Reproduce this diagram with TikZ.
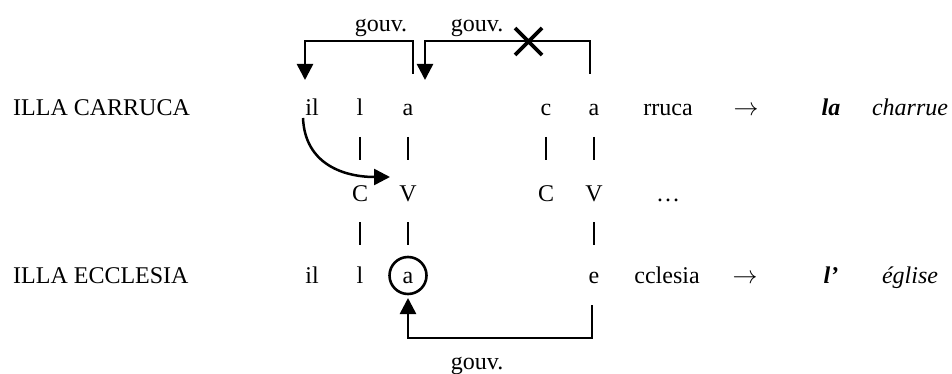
\documentclass[tikz,border=0pt]{standalone}
\usepackage{fontspec}
\setmainfont{Liberation Serif}
\usetikzlibrary{arrows.meta}
\begin{document}
\begin{tikzpicture}[x=1pt,y=-1pt,
  txt/.style={inner sep=0pt, anchor=base, font=\fontsize{24}{29}\selectfont},
  link/.style={line width=2.5pt, -{Triangle[width=16pt,length=16pt]}},
  bar/.style={line width=1.3pt},
  cross/.style={line width=3.8pt},
  ring/.style={draw, circle, line width=2.6pt, minimum size=37pt, inner sep=0pt}]
\useasboundingbox (0,0) rectangle (952,374);
% row 1
\node[txt, anchor=base west] (t1) at (13,116) {ILLA CARRUCA};
\node[txt] (il1) at (312,116) {il};
\node[txt] (l1) at (360,116) {l};
\node[txt] (a1) at (408,116) {a};
\node[txt] (c1) at (546,116) {c};
\node[txt] (a2) at (594,116) {a};
\node[txt] (rr) at (668,116) {rruca};
\node[txt] (ar1) at (746,116) {$\rightarrow$};
\node[txt] (la) at (831,116) {\textbf{\textit{la}}};
\node[txt] (ch) at (910,116) {\textit{charrue}};
% bars 1
\draw[bar] (360,137) -- (360,160);
\draw[bar] (408,137) -- (408,160);
\draw[bar] (546,137) -- (546,160);
\draw[bar] (594,137) -- (594,160);
% CV row
\node[txt] (C1) at (360,201) {C};
\node[txt] (V1) at (408,201) {V};
\node[txt] (C2) at (546,201) {C};
\node[txt] (V2) at (594,201) {V};
\node[txt] (dots) at (668,201) {\dots};
% bars 2
\draw[bar] (360,222) -- (360,245);
\draw[bar] (408,222) -- (408,245);
\draw[bar] (594,222) -- (594,245);
% row 2
\node[txt, anchor=base west] (t2) at (13,283) {ILLA ECCLESIA};
\node[txt] (il2) at (312,283) {il};
\node[txt] (l2) at (360,283) {l};
\node[txt] (a3) at (408,283) {a};
\node[ring] (circ) at (408,275.5) {};
\node[txt] (e1) at (594,283) {e};
\node[txt] (cc) at (667,283) {cclesia};
\node[txt] (ar2) at (745,283) {$\rightarrow$};
\node[txt] (lap) at (831,283) {\textbf{\textit{l’}}};
\node[txt] (eg) at (910,283) {\textit{église}};
% top brackets
\coordinate (g1s) at (413,74);
\coordinate (g1e) at (305,80);
\draw[link] (g1s) -- (413,41) -- (305,41) -- (g1e);
\node[txt] (gv1) at (381,32) {gouv.};
\coordinate (g2s) at (590,74);
\coordinate (g2e) at (425,80);
\draw[link] (g2s) -- (590,41) -- (425,41) -- (g2e);
\node[txt] (gv2) at (477,32) {gouv.};
\draw[cross] (515,28) -- (542,55) (515,55) -- (542,28);
% bottom bracket
\coordinate (g3s) at (592,305);
\coordinate (g3e) at (408,298);
\draw[link] (g3s) -- (592,338) -- (408,338) -- (g3e);
\node[txt] (gv3) at (477,369) {gouv.};
% curved arrow
\coordinate (cs) at (303,118);
\coordinate (ce) at (390,177);
\draw[link] (cs) .. controls (305,165) and (345,177) .. (ce);
\end{tikzpicture}
\end{document}
